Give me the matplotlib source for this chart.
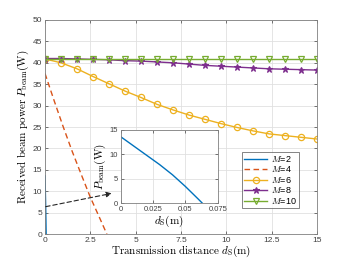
import numpy as np
import matplotlib.pyplot as plt

plt.rcParams['mathtext.fontset'] = 'cm'
plt.rcParams['font.family'] = ['Liberation Sans', 'DejaVu Sans']

# M=2 (very short range, shown in inset)
d2 = [0, 0.01, 0.02, 0.03, 0.04, 0.05, 0.06, 0.063]
p2 = [13.6, 11.7, 9.8, 7.9, 5.8, 3.4, 0.8, 0.0]

# M=4
d4 = [0, 0.5, 1.0, 1.5, 2.0, 2.5, 3.0, 3.41]
p4 = [37.5, 31.2, 25.1, 19.3, 13.9, 8.6, 3.9, 0.0]

# M=6, 8, 10 sampled on the same distance grid
d = np.linspace(0, 15, 18)
p6 = [40.9, 40.0, 38.6, 36.8, 35.1, 33.4, 31.9, 30.3, 29.0,
      27.8, 26.8, 25.8, 24.9, 24.1, 23.4, 23.0, 22.6, 22.2]
p8 = [41.0, 41.0, 40.9, 40.8, 40.7, 40.5, 40.4, 40.2, 40.0,
      39.7, 39.4, 39.2, 39.0, 38.8, 38.6, 38.5, 38.4, 38.3]
p10 = [41.0, 41.0, 41.0, 41.0, 41.0, 41.0, 41.0, 41.0, 41.0,
       41.0, 41.0, 41.0, 41.0, 41.0, 41.0, 41.0, 41.0, 41.0]

c_blue, c_orange, c_yellow = '#0072BD', '#D95319', '#EDB120'
c_purple, c_green = '#7E2F8E', '#77AC30'

fig = plt.figure(figsize=(3.5, 2.63), dpi=100)
ax = fig.add_axes([0.1286, 0.110, 0.777, 0.814])

ax.plot(d2, p2, color=c_blue, lw=1.0, label='$M$=2')
ax.plot(d4, p4, color=c_orange, lw=1.0, ls=(0, (4, 2.5)), label='$M$=4')
ax.plot(d, p6, color=c_yellow, lw=1.0, marker='o', ms=4.5, mfc='none', mew=0.9, label='$M$=6')
ax.plot(d, p8, color=c_purple, lw=1.0, marker='*', ms=4.5, mew=0.8, label='$M$=8')
ax.plot(d, p10, color=c_green, lw=1.0, marker='v', ms=4.5, mfc='none', mew=0.9, label='$M$=10')

ax.set_xlim(0, 15)
ax.set_ylim(0, 50)
ax.set_xticks([0, 2.5, 5, 7.5, 10, 12.5, 15])
ax.set_xticklabels(['0', '2.5', '5', '7.5', '10', '12.5', '15'])
ax.set_yticks(range(0, 51, 5))
ax.grid(True, color='0.88', lw=0.6)
ax.tick_params(direction='in', top=True, right=True, labelsize=6, length=2.5,
               width=0.5, colors='0.25', pad=2)
for s in ax.spines.values():
    s.set_color('0.5')
    s.set_linewidth(0.6)
ax.set_xlabel(r'$\mathrm{Transmission\ distance}\ d_{\mathrm{S}}(\mathrm{m})$', fontsize=8, labelpad=0)
ax.set_ylabel(r'$\mathrm{Received\ beam\ power}\ P_{\mathrm{beam}}(\mathrm{W})$', fontsize=8, labelpad=1)

leg = ax.legend(loc='upper left', bbox_to_anchor=(0.723, 0.385), fontsize=6.5, frameon=True,
                fancybox=False, edgecolor='0.3', handlelength=2.6, borderpad=0.25,
                labelspacing=0.05, handletextpad=0.4, borderaxespad=0)
leg.get_frame().set_linewidth(0.6)

ax.annotate('', xy=(3.68, 9.5), xytext=(0.04, 6.4),
            arrowprops=dict(arrowstyle='-|>', color='0.15', lw=0.8, ls=(0, (4, 2.5)),
                            mutation_scale=8, shrinkA=0, shrinkB=0))

ins = fig.add_axes([0.345, 0.228, 0.277, 0.278])
ins.plot(d2, p2, color=c_blue, lw=1.0)
ins.set_xlim(0, 0.075)
ins.set_ylim(0, 15)
ins.set_xticks([0, 0.025, 0.05, 0.075])
ins.set_xticklabels(['0', '0.025', '0.05', '0.075'])
ins.set_yticks([0, 5, 10, 15])
ins.grid(True, color='0.88', lw=0.6)
ins.tick_params(direction='in', top=True, right=True, labelsize=5.5, length=2,
                width=0.5, colors='0.25', pad=2)
for s in ins.spines.values():
    s.set_color('0.5')
    s.set_linewidth(0.6)
ins.set_xlabel(r'$d_{\mathrm{S}}(\mathrm{m})$', fontsize=8, labelpad=1)
ins.set_ylabel(r'$P_{\mathrm{beam}}(\mathrm{W})$', fontsize=8, labelpad=1)

fig.savefig('out.png', dpi=100)
